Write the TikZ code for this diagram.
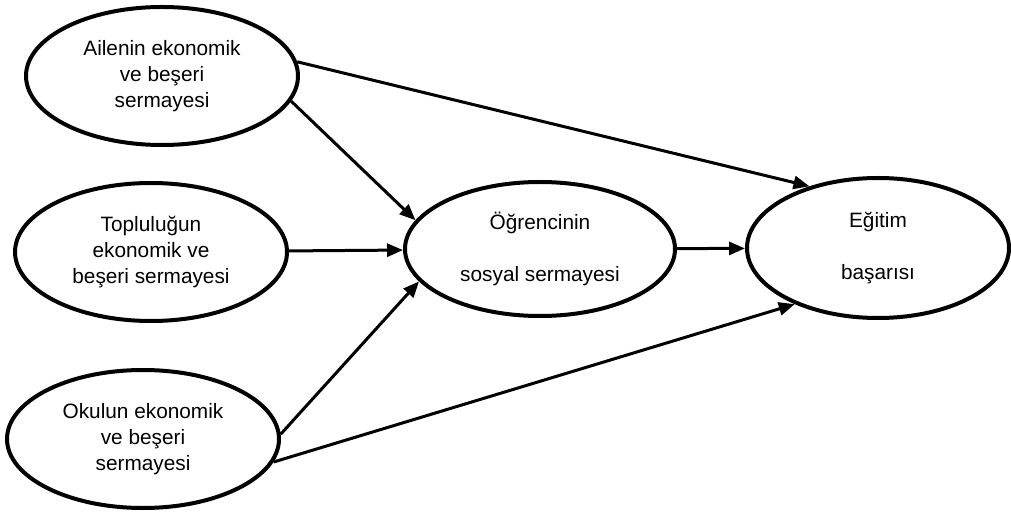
\documentclass[tikz,border=0pt]{standalone}
\usepackage{fontspec}
\setmainfont{Liberation Sans}
\usetikzlibrary{arrows.meta,shapes.geometric}

\begin{document}
\begin{tikzpicture}[
    > = {Triangle[length=16pt,width=13pt]}, % arrow head style
    x = 1pt, y = -1pt, % pixel-like coordinates
    line width = 3pt, % line style
    font = \fontsize{20.8}{26}\selectfont
    ]
\tikzset{factor/.style={
    ellipse,
    draw = black,
    line width = 4pt,
    fill = white,
    inner sep = 0pt,
    align = center,
    minimum width = 272pt,
    minimum height = 138pt
    }}
    \useasboundingbox (0,0) rectangle (1011,518);

    \node[factor] (A) at (162,76) {Ailenin ekonomik\\ve beşeri\\sermayesi};
    \node[factor] (B) at (151,252) {Topluluğun\\ekonomik ve\\beşeri sermayesi};
    \node[factor] (C) at (143,439) {Okulun ekonomik\\ve beşeri\\sermayesi};
    \node[factor, minimum width=270pt, minimum height=134pt] (M) at (540,249) {Öğrencinin\\[26pt]sosyal sermayesi};
    \node[factor, minimum width=262pt, minimum height=140pt] (R) at (878,248) {Eğitim\\[26pt]başarısı};

     \path [->] (A.6) edge (R.138);
     \path [->] (A.-11) edge (M.167);
     \path [->] (B) edge (M);
     \path [->] (C.2) edge (M.195);
     \path [->] (C.-10) edge (R.214);
     \path [->] (M) edge (R);
\end{tikzpicture}
\end{document}
